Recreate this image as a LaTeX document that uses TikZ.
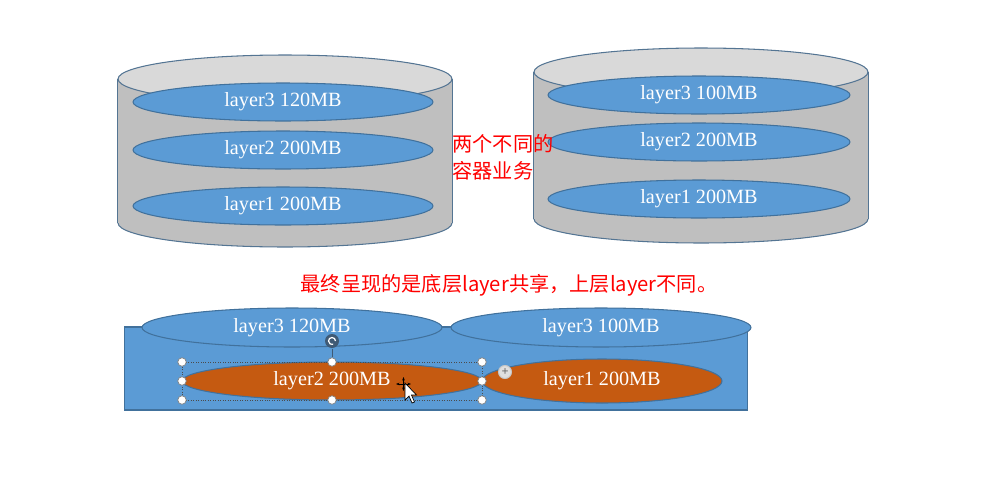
\documentclass[tikz,border=0pt]{standalone}
\usepackage{fontspec}
\setmainfont{Liberation Serif}
\newfontfamily\cjk{Noto Sans CJK SC}
\usetikzlibrary{shapes.geometric,arrows.meta}
\definecolor{layerblue}{HTML}{5B9BD5}
\definecolor{edgeblue}{HTML}{41719C}
\definecolor{layerorange}{HTML}{C55A11}
\definecolor{tankgray}{HTML}{BFBFBF}
\definecolor{lidgray}{HTML}{D9D9D9}
\definecolor{rotgray}{HTML}{3F5A75}

\begin{document}
\begin{tikzpicture}[x=0.02cm, y=-0.02cm, line width=0.6pt,
    layer/.style={ellipse, draw=edgeblue, fill=layerblue, inner sep=0pt, minimum width=6cm, minimum height=0.76cm, text=white, font=\fontsize{11.5}{13}\selectfont},
    lid/.style={ellipse, draw=edgeblue!70!gray, fill=lidgray, inner sep=0pt, minimum width=6.68cm, minimum height=0.96cm},
    tankbase/.style={lid, fill=tankgray},
    note/.style={text=red, font=\cjk\fontsize{11.5}{15.3}\selectfont},
    handle/.style={circle, draw=gray, fill=white, inner sep=0pt, minimum size=0.17cm, line width=0.4pt}]
    \useasboundingbox (0,0) rectangle (991,487);

    % Left container
    \node[tankbase] (lbase) at (285,223) {};
    \fill[tankgray] (lbase.west) rectangle ++(334,-144);
    \node[lid] (ltop) at (285,79) {};
    \draw[edgeblue!70!gray] (ltop.west) -- (lbase.west);
    \draw[edgeblue!70!gray] (ltop.east) -- (lbase.east);
    \node[layer] (ll3) at (283,102) {layer3 120MB};
    \node[layer] (ll2) at (283,150) {layer2 200MB};
    \node[layer] (ll1) at (283,206) {layer1 200MB};

    % Right container
    \node[tankbase] (rbase) at (701,219) {};
    \fill[tankgray] (rbase.west) rectangle ++(334,-147);
    \node[lid] (rtop) at (701,72) {};
    \draw[edgeblue!70!gray] (rtop.west) -- (rbase.west);
    \draw[edgeblue!70!gray] (rtop.east) -- (rbase.east);
    \node[layer, minimum width=6.04cm] (rl3) at (699,95) {layer3 100MB};
    \node[layer, minimum width=6.04cm] (rl2) at (699,142) {layer2 200MB};
    \node[layer, minimum width=6.04cm] (rl1) at (699,199) {layer1 200MB};

    % Notes
    \node[note, align=left, anchor=west] (twoapps) at (446,157) {两个不同的\\容器业务};
    \node[note] (shared) at (509,285) {最终呈现的是底层layer共享，上层layer不同。};

    % Merged view
    \node[draw=edgeblue, fill=layerblue, inner sep=0pt, minimum width=12.48cm, minimum height=1.66cm] (merged) at (436,368.5) {};
    \node[layer, minimum height=0.78cm] (ml3a) at (292,327.5) {layer3 120MB};
    \node[layer, minimum height=0.78cm] (ml3b) at (601,327.5) {layer3 100MB};
    \node[layer, fill=layerorange] (ml2) at (332,381) {layer2 200MB};
    \node[layer, fill=layerorange, minimum width=4.8cm, minimum height=0.88cm] (ml1) at (602,381) {layer1 200MB};

    % Selection handles
    \draw[densely dotted, gray!60!black, line width=0.4pt] (182,362) rectangle (482,400);
    \foreach \x/\y in {182/362, 332/362, 482/362, 182/381, 482/381, 182/400, 332/400, 482/400}
        \node[handle] (h-\x-\y) at (\x,\y) {};
    \node[circle, fill=rotgray, inner sep=0pt, minimum size=0.28cm] (rot) at (332,341) {};
    \draw[rotgray, line width=0.5pt] (rot) -- (h-332-362);
    \draw[white, line width=0.7pt] ([shift={(0.07cm,0)}]rot.center) arc[start angle=0, end angle=290, radius=0.07cm];
    \node[circle, fill=gray!25, draw=gray!45, inner sep=0pt, minimum size=0.26cm, text=gray!80!black, font=\bfseries\fontsize{7}{7}\selectfont] (plus) at (505,372) {+};

    % Cursor
    \draw[line width=0.5pt, {Stealth[length=2pt]}-{Stealth[length=2pt]}] (396,384) -- (411,384);
    \draw[line width=0.5pt, {Stealth[length=2pt]}-{Stealth[length=2pt]}] (403.5,377) -- (403.5,391);
    \filldraw[fill=white, draw=black, line width=0.4pt] (405,383) -- (405,400) -- (409,396) -- (412,403) -- (414.5,402) -- (411.5,395) -- (416.5,395) -- cycle;
\end{tikzpicture}
\end{document}
